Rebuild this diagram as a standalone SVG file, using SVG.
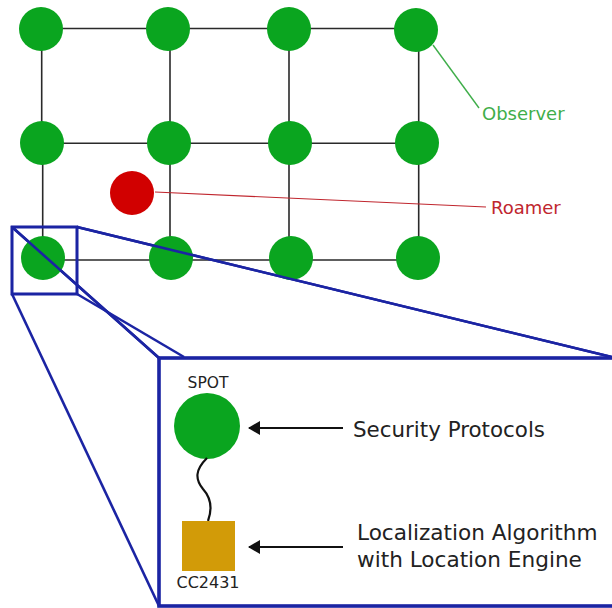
<svg xmlns="http://www.w3.org/2000/svg" width="612" height="608" viewBox="0 0 612 608">
  <defs>
    <style>
      .grid { stroke: #2a2a2a; stroke-width: 1.6; fill: none; }
      .obs { fill: #0aa51f; }
      .zoom { stroke: #1b24a3; fill: none; stroke-width: 2.6; }
      .frame { stroke: #1b24a3; fill: none; stroke-width: 3.6; }
      .lbl { font-family: "DejaVu Sans", Verdana, sans-serif; }
      .ptr { stroke: #111; stroke-width: 2.2; fill: none; }
    </style>
    <marker id="head" viewBox="0 0 12 14" refX="11" refY="7" markerWidth="12" markerHeight="14" orient="auto" markerUnits="userSpaceOnUse">
      <path d="M12,7 L0,0 L0,14 Z" fill="#111"/>
    </marker>
  </defs>
  <rect width="612" height="608" fill="#ffffff"/>

  <!-- grid links between observers -->
  <g id="connectors">
    <path class="grid" d="M41,28.5 H416 M41,143.3 H417 M43,260 H418"/>
    <path class="grid" d="M41.7,29 V143 M42.7,143 V258 M170,29 V258 M289,29 V258 M418.7,30 V258"/>
    <!-- label leaders -->
    <line x1="433" y1="45" x2="479" y2="108" stroke="#3fae4a" stroke-width="1.4"/>
    <line x1="155" y1="192" x2="486" y2="207" stroke="#c0262e" stroke-width="1.1"/>
    <!-- zoom projection -->
    <rect class="zoom" x="12" y="227" width="65" height="67"/>
    <line class="zoom" x1="12" y1="227" x2="159" y2="358"/>
    <line class="zoom" x1="77" y1="294" x2="184" y2="357"/>
    <line class="zoom" x1="12" y1="294" x2="159" y2="606"/>
    <line class="zoom" x1="77" y1="227" x2="612" y2="357"/>
  </g>

  <!-- observer nodes -->
  <g id="observer-r1c1"><circle class="obs" cx="41" cy="29" r="22"/></g>
  <g id="observer-r1c2"><circle class="obs" cx="168" cy="29" r="22"/></g>
  <g id="observer-r1c3"><circle class="obs" cx="289" cy="29" r="22"/></g>
  <g id="observer-r1c4"><circle class="obs" cx="416" cy="30" r="22"/></g>
  <g id="observer-r2c1"><circle class="obs" cx="42" cy="143" r="22"/></g>
  <g id="observer-r2c2"><circle class="obs" cx="169" cy="143" r="22"/></g>
  <g id="observer-r2c3"><circle class="obs" cx="290" cy="143" r="22"/></g>
  <g id="observer-r2c4"><circle class="obs" cx="417" cy="143" r="22"/></g>
  <g id="observer-r3c1"><circle class="obs" cx="43" cy="258" r="22"/></g>
  <g id="observer-r3c2"><circle class="obs" cx="171" cy="258" r="22"/></g>
  <g id="observer-r3c3"><circle class="obs" cx="291" cy="258" r="22"/></g>
  <g id="observer-r3c4"><circle class="obs" cx="418" cy="258" r="22"/></g>

  <!-- zoom square and its upper rays stay on top of the nodes -->
  <g id="zoom-overlay">
    <rect class="zoom" x="12" y="227" width="65" height="67"/>
    <line class="zoom" x1="12" y1="227" x2="159" y2="358"/>
    <line class="zoom" x1="77" y1="227" x2="612" y2="357"/>
  </g>

  <g id="roamer"><circle cx="132" cy="193" r="22" fill="#d10000"/></g>

  <g id="label-observer"><text class="lbl" x="482" y="120" font-size="18" fill="#3fae4a">Observer</text></g>
  <g id="label-roamer"><text class="lbl" x="491" y="214" font-size="18" fill="#c0262e">Roamer</text></g>

  <!-- enlarged node detail -->
  <g id="detail-frame">
    <rect class="frame" x="159" y="358" width="460" height="248" fill="#ffffff"/>
  </g>

  <g id="spot">
    <circle cx="207" cy="426" r="33" fill="#0aa51f"/>
    <text class="lbl" x="208" y="388" font-size="15.5" fill="#222" text-anchor="middle">SPOT</text>
  </g>
  <path id="cable" d="M207,458 C195,470 195,479 203,489 C212,499 212,510 208,521" stroke="#111" stroke-width="2.2" fill="none"/>
  <g id="cc2431">
    <rect x="182" y="521" width="53" height="50" fill="#d29b08"/>
    <text class="lbl" x="208" y="588" font-size="16" fill="#222" text-anchor="middle">CC2431</text>
  </g>

  <g id="pointers">
    <line class="ptr" x1="343" y1="428" x2="249" y2="428" marker-end="url(#head)"/>
    <line class="ptr" x1="343" y1="547" x2="249" y2="547" marker-end="url(#head)"/>
  </g>

  <g id="label-security"><text class="lbl" x="353" y="437" font-size="21.4" fill="#222">Security Protocols</text></g>
  <g id="label-localization">
    <text class="lbl" x="357" y="540" font-size="21.6" fill="#222">Localization Algorithm</text>
    <text class="lbl" x="357" y="567" font-size="21.6" fill="#222">with Location Engine</text>
  </g>
</svg>
